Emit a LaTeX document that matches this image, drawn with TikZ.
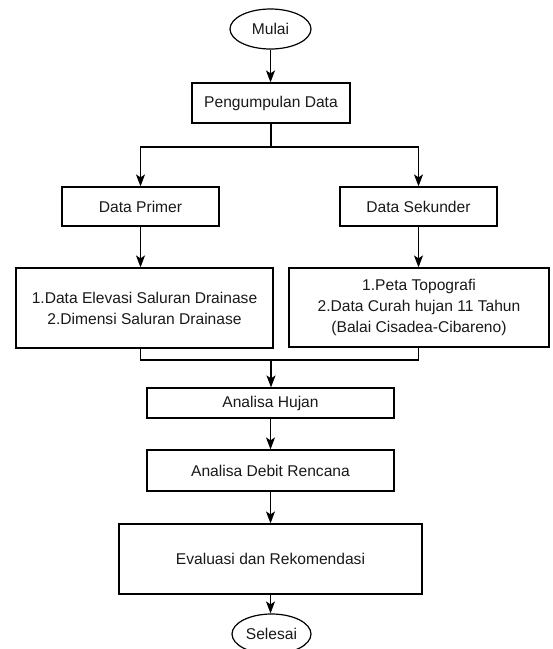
\documentclass[tikz,border=0pt]{standalone}
\usepackage{fontspec}
\setmainfont{Liberation Sans}
\usetikzlibrary{shapes.geometric,arrows.meta}
\begin{document}
\begin{tikzpicture}[x=1pt,y=-1pt,
  every node/.style={font=\fontsize{15.6}{21}\selectfont, text=black!90, align=center, inner sep=0pt},
  box/.style={draw=black, line width=1.2pt, rectangle},
  term/.style={draw=black, line width=1.2pt, ellipse},
  conn/.style={draw=black, line width=1.2pt},
  arr/.style={conn, -{Stealth[length=12pt,width=9pt,inset=3pt]}}]
\useasboundingbox (0,0) rectangle (553,649);
\node[term, minimum width=81pt, minimum height=40pt] (mulai) at (270.5,29) {Mulai};
\node[box, minimum width=158pt, minimum height=40pt] (pd) at (271,103) {Pengumpulan Data};
\node[box, minimum width=157pt, minimum height=39pt] (dp) at (140.5,206.5) {Data Primer};
\node[box, minimum width=157pt, minimum height=39pt] (ds) at (418.5,206.5) {Data Sekunder};
\node[box, minimum width=257pt, minimum height=80pt] (l1) at (144.5,308) {1.Data Elevasi Saluran Drainase\\2.Dimensi Saluran Drainase};
\node[box, minimum width=260pt, minimum height=79pt] (l2) at (419,307.5) {1.Peta Topografi\\2.Data Curah hujan 11 Tahun\\(Balai Cisadea-Cibareno)};
\node[box, minimum width=247pt, minimum height=30pt] (ah) at (270.5,403) {Analisa Hujan};
\node[box, minimum width=247pt, minimum height=41pt] (adr) at (270.5,470.5) {Analisa Debit Rencana};
\node[box, minimum width=303pt, minimum height=70pt] (ev) at (270.5,559) {Evaluasi dan Rekomendasi};
\node[term, minimum width=79pt, minimum height=40pt] (sel) at (271.5,634) {Selesai};
\coordinate (split) at (271,147);
\coordinate (merge) at (271,360);
\draw[arr] (mulai.south) -- (mulai.south |- pd.north);
\draw[conn] (pd.south) -- (split);
\draw[arr] (split) -| (dp.north);
\draw[arr] (split) -| (ds.north);
\draw[arr] (dp.south) -- (dp.south |- l1.north);
\draw[arr] (ds.south) -- (ds.south |- l2.north);
\draw[conn] (dp.south |- l1.south) |- (merge) -| (ds.south |- l2.south);
\draw[arr] (merge) -- (merge |- ah.north);
\draw[arr] (ah.south) -- (adr.north);
\draw[arr] (adr.south) -- (ev.north);
\draw[arr] (ev.south) -- (ev.south |- sel.north);
\end{tikzpicture}
\end{document}
